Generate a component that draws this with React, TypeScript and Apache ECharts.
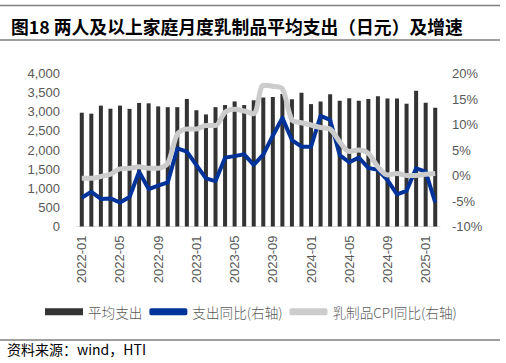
import React, { useEffect, useRef } from "react";
import * as echarts from "echarts";

const categories = [
  "2022-01","2022-02","2022-03","2022-04","2022-05","2022-06","2022-07","2022-08","2022-09","2022-10","2022-11","2022-12",
  "2023-01","2023-02","2023-03","2023-04","2023-05","2023-06","2023-07","2023-08","2023-09","2023-10","2023-11","2023-12",
  "2024-01","2024-02","2024-03","2024-04","2024-05","2024-06","2024-07","2024-08","2024-09","2024-10","2024-11","2024-12",
  "2025-01","2025-02",
];

const avgSpending = [
  2975, 2950, 3160, 3080, 3160, 3075, 3230, 3220, 3140, 3120, 3120, 3335,
  3040, 2930, 3120, 3175, 3270, 3175, 3300, 3370, 3385, 3465, 3325, 3500,
  3200, 3265, 3455, 3290, 3350, 3290, 3335, 3405, 3345, 3345, 3210, 3550,
  3235, 3105,
];

const spendingYoY = [
  -4.35, -3.2, -4.6, -4.5, -5.3, -4.2, 0.75, -2.65, -2.0, -1.35, 5.3, 4.7,
  2.05, -0.55, -1.1, 3.5, 3.8, 4.15, 2.1, 4.1, 7.8, 11.3, 6.95, 5.65,
  5.65, 11.7, 10.9, 4.0, 2.6, 3.5, 1.5, 1.1, -0.9, -3.7, -3.0, 1.4,
  0.75, -5.3,
];

const dairyCpiYoY = [
  -0.55, -0.55, -0.2, 0.25, 1.3, 1.4, 1.7, 1.4, 1.4, 2.4, 8.1, 9.1,
  9.1, 9.8, 9.8, 12.4, 13.0, 12.65, 12.1, 17.7, 17.5, 17.0, 10.9, 10.35,
  9.9, 9.4, 9.1, 6.6, 4.7, 5.0, 4.35, 1.7, 0.1, 0.4, 0.0, 0.0,
  0.25, 0.4,
];

const leftTicks = { min: 0, max: 4000, interval: 500 };
const rightTicks = { min: -10, max: 20, interval: 5 };

const titleText = "图18 两人及以上家庭月度乳制品平均支出（日元）及增速";
const sourceText = "资料来源：wind，HTI";
const seriesNames = ["平均支出", "支出同比(右轴)", "乳制品CPI同比(右轴)"];

const LABEL_FONT = "'Liberation Sans', 'Noto Sans CJK SC', sans-serif";
const CJK_FONT = "'Noto Sans CJK SC', sans-serif";

export default function App() {
  const ref = useRef<HTMLDivElement>(null);

  useEffect(() => {
    document.body.style.margin = "0";
    if (!ref.current) return;
    const chart = echarts.init(ref.current, undefined, { renderer: "svg" });
    chart.setOption({
      animation: false,
      backgroundColor: "#ffffff",
      title: {
        text: titleText,
        left: 6,
        top: 12,
        textStyle: {
          fontFamily: CJK_FONT,
          fontSize: 17.8,
          fontWeight: "bold",
          color: "#000000",
        },
      },
      graphic: [
        { type: "line", shape: { x1: 0, y1: 5.5, x2: 500, y2: 5.5 }, style: { stroke: "#7f7f7f", lineWidth: 1.5 } },
        { type: "line", shape: { x1: 0, y1: 40, x2: 500, y2: 40 }, style: { stroke: "#7f7f7f", lineWidth: 1.5 } },
        { type: "line", shape: { x1: 0, y1: 340, x2: 500, y2: 340 }, style: { stroke: "#404040", lineWidth: 1 } },
        {
          type: "text",
          left: 7,
          top: 342,
          style: { text: sourceText, font: `14px ${CJK_FONT}`, fill: "#000000" },
        },
      ],
      legend: {
        top: 300,
        left: 40,
        itemWidth: 38,
        itemHeight: 7,
        itemGap: 7,
        textStyle: { fontFamily: CJK_FONT, fontSize: 13.6, color: "#595959", fontWeight: 300 },
        data: [
          { name: seriesNames[0], icon: "rect" },
          { name: seriesNames[1], icon: "roundRect" },
          { name: seriesNames[2], icon: "roundRect" },
        ],
      },
      grid: { left: 77, right: 66, top: 73.5, bottom: 136.5, containLabel: false },
      xAxis: {
        type: "category",
        data: categories,
        boundaryGap: true,
        axisLine: { lineStyle: { color: "#d9d9d9", width: 1 } },
        axisTick: { interval: 3, length: 5, lineStyle: { color: "#d9d9d9" } },
        axisLabel: {
          interval: 3,
          rotate: 90,
          fontFamily: LABEL_FONT,
          fontSize: 13,
          color: "#595959",
          margin: 9,
        },
        splitLine: { show: false },
      },
      yAxis: [
        {
          type: "value",
          ...leftTicks,
          axisLine: { show: false },
          axisTick: { show: false },
          splitLine: { show: false },
          axisLabel: {
            fontFamily: LABEL_FONT,
            fontSize: 13,
            color: "#595959",
            margin: 17,
            formatter: (v: number) => v.toLocaleString("en-US"),
          },
        },
        {
          type: "value",
          ...rightTicks,
          axisLine: { show: false },
          axisTick: { show: false },
          splitLine: { show: false },
          axisLabel: {
            fontFamily: LABEL_FONT,
            fontSize: 13,
            color: "#595959",
            margin: 12,
            formatter: (v: number) => `${v}%`,
          },
        },
      ],
      series: [
        {
          name: seriesNames[0],
          type: "bar",
          yAxisIndex: 0,
          data: avgSpending,
          barWidth: "42%",
          itemStyle: { color: "#333333" },
        },
        {
          name: seriesNames[1],
          type: "line",
          yAxisIndex: 1,
          data: spendingYoY,
          showSymbol: false,
          symbol: "none",
          lineStyle: { color: "#003399", width: 4, join: "round" },
          itemStyle: { color: "#003399" },
        },
        {
          name: seriesNames[2],
          type: "line",
          yAxisIndex: 1,
          data: dairyCpiYoY,
          showSymbol: false,
          symbol: "none",
          smooth: 0.3,
          lineStyle: { color: "#cccccc", width: 5 },
          itemStyle: { color: "#cccccc" },
        },
      ],
    });
    return () => chart.dispose();
  }, []);

  return <div ref={ref} style={{ width: 506, height: 363 }} />;
}
